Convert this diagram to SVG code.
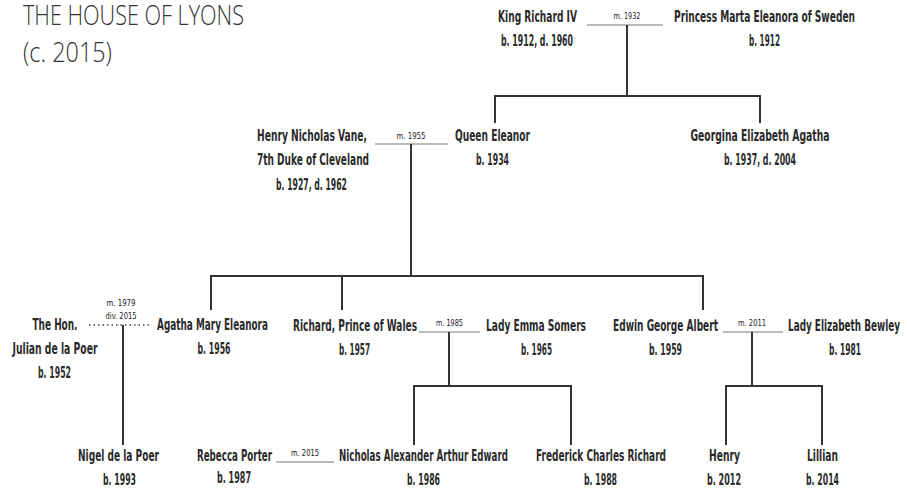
<svg xmlns="http://www.w3.org/2000/svg" width="907" height="496" viewBox="0 0 907 496">
<style>
.t{font-family:"Liberation Sans Narrow","DejaVu Sans Condensed","Liberation Sans",sans-serif;font-size:16px;font-weight:bold;fill:#2a2a2a;text-anchor:middle}
.m{font-family:"Liberation Sans Narrow","DejaVu Sans Condensed","Liberation Sans",sans-serif;font-size:9.5px;fill:#222;text-anchor:middle}
.title{font-family:"Open Sans","DejaVu Sans Condensed",sans-serif;font-weight:300;font-size:28px;fill:#333}
.ln{stroke:#333;stroke-width:2;fill:none}
.mar{stroke:#bbb;stroke-width:2;fill:none}
.div{stroke:#444;stroke-width:1.3;stroke-dasharray:1.5 3;fill:none}
</style>
<rect width="907" height="496" fill="#fff"/>
<g id="title">
<text class="title" x="23" y="25" textLength="221" lengthAdjust="spacingAndGlyphs">THE HOUSE OF LYONS</text>
<text class="title" x="23" y="62" textLength="89" lengthAdjust="spacingAndGlyphs">(c. 2015)</text>
</g>
<g id="connectors">
<line class="mar" x1="587" y1="25" x2="663" y2="25"/>
<text class="m" x="627" y="19" textLength="27" lengthAdjust="spacingAndGlyphs">m. 1932</text>
<path class="ln" d="M627 25V96M495 123V96H760V123"/>
<line class="mar" x1="375" y1="144" x2="448" y2="144"/>
<text class="m" x="411" y="139" textLength="29" lengthAdjust="spacingAndGlyphs">m. 1955</text>
<path class="ln" d="M411 144V276M211 310V276H703V310M342 276V310"/>
<line class="div" x1="89" y1="325" x2="152" y2="325"/>
<text class="m" x="121" y="306" textLength="29" lengthAdjust="spacingAndGlyphs">m. 1979</text>
<text class="m" x="121" y="319" textLength="31" lengthAdjust="spacingAndGlyphs">div. 2015</text>
<path class="ln" d="M123 325V445"/>
<line class="mar" x1="419" y1="332" x2="480" y2="332"/>
<text class="m" x="449.5" y="326" textLength="27" lengthAdjust="spacingAndGlyphs">m. 1985</text>
<path class="ln" d="M449 332V386M414 445V386H571V445"/>
<line class="mar" x1="723" y1="332" x2="783" y2="332"/>
<text class="m" x="752" y="326" textLength="28" lengthAdjust="spacingAndGlyphs">m. 2011</text>
<path class="ln" d="M752 332V386M726 445V386H822V445"/>
<line class="mar" x1="276" y1="462" x2="334" y2="462"/>
<text class="m" x="305" y="456" textLength="28" lengthAdjust="spacingAndGlyphs">m. 2015</text>
</g>
<g id="king-richard-iv">
<text class="t" x="537.5" y="22" textLength="79" lengthAdjust="spacingAndGlyphs">King Richard IV</text>
<text class="t" x="537" y="46" textLength="72" lengthAdjust="spacingAndGlyphs">b. 1912, d. 1960</text>
</g>
<g id="princess-marta">
<text class="t" x="764.5" y="22" textLength="181" lengthAdjust="spacingAndGlyphs">Princess Marta Eleanora of Sweden</text>
<text class="t" x="764.5" y="46" textLength="31" lengthAdjust="spacingAndGlyphs">b. 1912</text>
</g>
<g id="henry-vane">
<text class="t" x="312" y="141" textLength="110" lengthAdjust="spacingAndGlyphs">Henry Nicholas Vane,</text>
<text class="t" x="313" y="165" textLength="112" lengthAdjust="spacingAndGlyphs">7th Duke of Cleveland</text>
<text class="t" x="311.5" y="190" textLength="71" lengthAdjust="spacingAndGlyphs">b. 1927, d. 1962</text>
</g>
<g id="queen-eleanor">
<text class="t" x="492.5" y="141" textLength="75" lengthAdjust="spacingAndGlyphs">Queen Eleanor</text>
<text class="t" x="492.5" y="165" textLength="33" lengthAdjust="spacingAndGlyphs">b. 1934</text>
</g>
<g id="georgina">
<text class="t" x="760" y="141" textLength="139" lengthAdjust="spacingAndGlyphs">Georgina Elizabeth Agatha</text>
<text class="t" x="760" y="165" textLength="72" lengthAdjust="spacingAndGlyphs">b. 1937, d. 2004</text>
</g>
<g id="julian">
<text class="t" x="55" y="330" textLength="45" lengthAdjust="spacingAndGlyphs">The Hon.</text>
<text class="t" x="55" y="354" textLength="85" lengthAdjust="spacingAndGlyphs">Julian de la Poer</text>
<text class="t" x="54.5" y="378" textLength="33" lengthAdjust="spacingAndGlyphs">b. 1952</text>
</g>
<g id="agatha">
<text class="t" x="212.5" y="330" textLength="111" lengthAdjust="spacingAndGlyphs">Agatha Mary Eleanora</text>
<text class="t" x="214" y="354" textLength="33" lengthAdjust="spacingAndGlyphs">b. 1956</text>
</g>
<g id="richard">
<text class="t" x="355" y="331" textLength="124" lengthAdjust="spacingAndGlyphs">Richard, Prince of Wales</text>
<text class="t" x="354.5" y="355" textLength="31" lengthAdjust="spacingAndGlyphs">b. 1957</text>
</g>
<g id="emma">
<text class="t" x="536" y="331" textLength="100" lengthAdjust="spacingAndGlyphs">Lady Emma Somers</text>
<text class="t" x="536.5" y="355" textLength="31" lengthAdjust="spacingAndGlyphs">b. 1965</text>
</g>
<g id="edwin">
<text class="t" x="665.5" y="331" textLength="105" lengthAdjust="spacingAndGlyphs">Edwin George Albert</text>
<text class="t" x="665.5" y="355" textLength="33" lengthAdjust="spacingAndGlyphs">b. 1959</text>
</g>
<g id="elizabeth">
<text class="t" x="844" y="331" textLength="112" lengthAdjust="spacingAndGlyphs">Lady Elizabeth Bewley</text>
<text class="t" x="845" y="355" textLength="32" lengthAdjust="spacingAndGlyphs">b. 1981</text>
</g>
<g id="nigel">
<text class="t" x="118.5" y="461" textLength="81" lengthAdjust="spacingAndGlyphs">Nigel de la Poer</text>
<text class="t" x="119.5" y="485" textLength="33" lengthAdjust="spacingAndGlyphs">b. 1993</text>
</g>
<g id="rebecca">
<text class="t" x="234.5" y="461" textLength="75" lengthAdjust="spacingAndGlyphs">Rebecca Porter</text>
<text class="t" x="234" y="483" textLength="34" lengthAdjust="spacingAndGlyphs">b. 1987</text>
</g>
<g id="nicholas">
<text class="t" x="423.5" y="461" textLength="169" lengthAdjust="spacingAndGlyphs">Nicholas Alexander Arthur Edward</text>
<text class="t" x="423.5" y="485" textLength="33" lengthAdjust="spacingAndGlyphs">b. 1986</text>
</g>
<g id="frederick">
<text class="t" x="601" y="461" textLength="130" lengthAdjust="spacingAndGlyphs">Frederick Charles Richard</text>
<text class="t" x="600.5" y="485" textLength="33" lengthAdjust="spacingAndGlyphs">b. 1988</text>
</g>
<g id="henry">
<text class="t" x="724.5" y="461" textLength="31" lengthAdjust="spacingAndGlyphs">Henry</text>
<text class="t" x="724" y="485" textLength="34" lengthAdjust="spacingAndGlyphs">b. 2012</text>
</g>
<g id="lillian">
<text class="t" x="822.5" y="461" textLength="31" lengthAdjust="spacingAndGlyphs">Lillian</text>
<text class="t" x="822.5" y="485" textLength="33" lengthAdjust="spacingAndGlyphs">b. 2014</text>
</g>
</svg>
